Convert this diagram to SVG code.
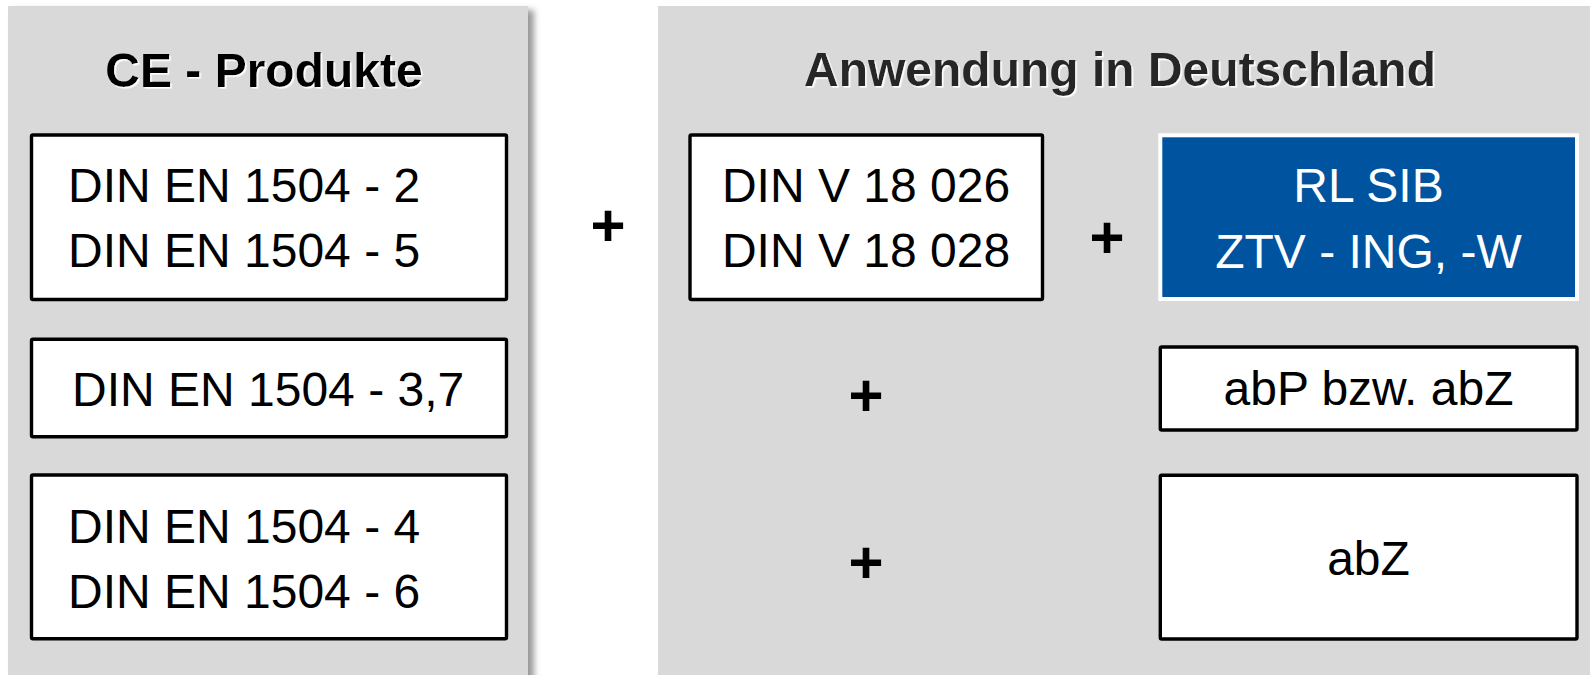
<svg xmlns="http://www.w3.org/2000/svg" width="1590" height="675" viewBox="0 0 1590 675">
  <defs>
    <filter id="panelShadow" x="-5%" y="-5%" width="115%" height="115%">
      <feDropShadow dx="6" dy="4" stdDeviation="3" flood-color="#000" flood-opacity="0.4"/>
    </filter>
    <filter id="titleShadow" x="-5%" y="-20%" width="110%" height="140%">
      <feDropShadow dx="1.6" dy="1.6" stdDeviation="0" flood-color="#fff" flood-opacity="1"/>
    </filter>
  </defs>
  <style>
    .panel { fill: #d9d9d9; }
    .box { fill: #ffffff; stroke: #000000; stroke-width: 3.4; }
    .bluebox { fill: #00549f; stroke: #ffffff; stroke-width: 4; }
    .t { font-family: "Liberation Sans", Arial, sans-serif; font-size: 48px; fill: #000; }
    .tw { font-family: "Liberation Sans", Arial, sans-serif; font-size: 48px; fill: #fff; }
    .title { font-family: "Liberation Sans", Arial, sans-serif; font-size: 48px; font-weight: bold; }
    .plus { font-family: "Liberation Sans", Arial, sans-serif; font-size: 60px; font-weight: bold; fill: #000; text-anchor: middle; }
    .mid { text-anchor: middle; }
  </style>
  <rect width="1590" height="675" fill="#ffffff"/>

  <g id="panel-ce">
    <rect class="panel" x="8" y="6" width="520" height="690" filter="url(#panelShadow)"/>
    <text class="title mid" x="264" y="87" fill="#000" filter="url(#titleShadow)">CE - Produkte</text>
  </g>

  <g id="panel-de">
    <rect class="panel" x="658" y="6" width="940" height="690"/>
    <text class="title mid" x="1120" y="86" fill="#262626" filter="url(#titleShadow)">Anwendung in Deutschland</text>
  </g>

  <g id="box-1504-2-5">
    <rect class="box" x="31.5" y="135" width="475" height="164.5" rx="1.5"/>
    <text class="t" x="68" y="201.7">DIN EN 1504 - 2</text>
    <text class="t" x="68" y="266.7">DIN EN 1504 - 5</text>
  </g>

  <g id="box-1504-3-7">
    <rect class="box" x="31.5" y="339.3" width="475" height="97.4" rx="1.5"/>
    <text class="t" x="72" y="406">DIN EN 1504 - 3,7</text>
  </g>

  <g id="box-1504-4-6">
    <rect class="box" x="31.5" y="475" width="475" height="163.7" rx="1.5"/>
    <text class="t" x="68" y="543.3">DIN EN 1504 - 4</text>
    <text class="t" x="68" y="608.3">DIN EN 1504 - 6</text>
  </g>

  <g id="box-din-v">
    <rect class="box" x="690" y="135" width="352.5" height="164.5" rx="1.5"/>
    <text class="t mid" x="866" y="201.7">DIN V 18 026</text>
    <text class="t mid" x="866" y="266.7">DIN V 18 028</text>
  </g>

  <g id="box-rl-sib">
    <rect class="bluebox" x="1160.3" y="135.3" width="416.7" height="163.7"/>
    <text class="tw mid" x="1368.5" y="201.7">RL SIB</text>
    <text class="tw mid" x="1368.5" y="268">ZTV - ING, -W</text>
  </g>

  <g id="box-abp">
    <rect class="box" x="1160.3" y="347" width="416.7" height="83" rx="1.5"/>
    <text class="t mid" x="1368.5" y="405">abP bzw. abZ</text>
  </g>

  <g id="box-abz">
    <rect class="box" x="1160.3" y="475.3" width="416.7" height="163.7" rx="1.5"/>
    <text class="t mid" x="1368.5" y="575">abZ</text>
  </g>

  <g id="connectors">
    <text class="plus" x="608" y="245.5">+</text>
    <text class="plus" x="1107" y="258">+</text>
    <text class="plus" x="866" y="416">+</text>
    <text class="plus" x="866" y="583">+</text>
  </g>
</svg>
